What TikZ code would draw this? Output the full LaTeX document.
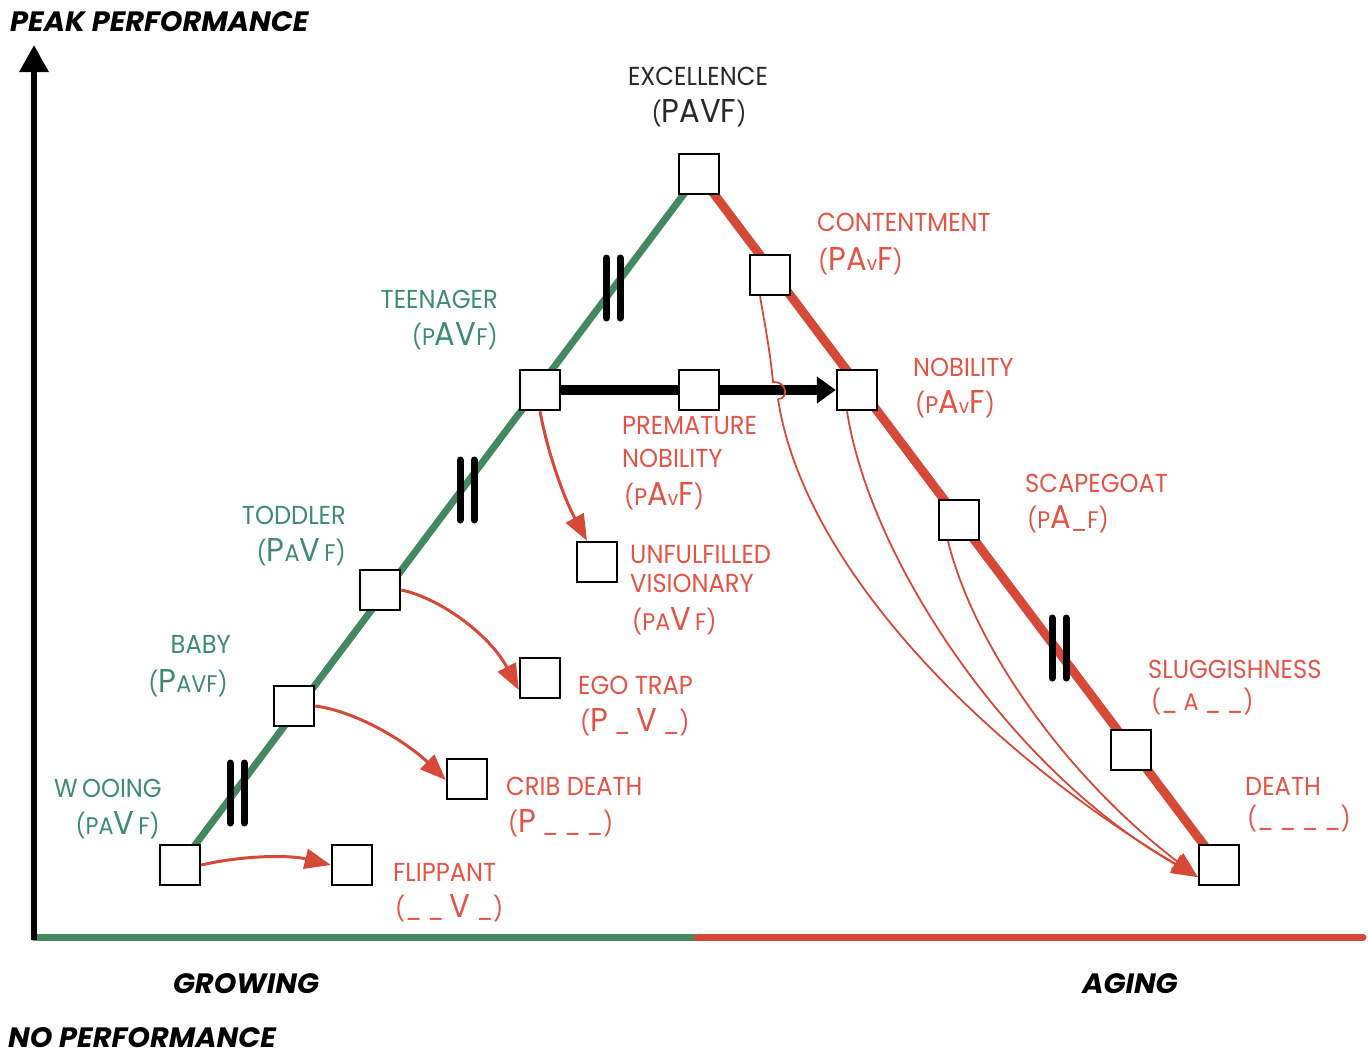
\documentclass[tikz,border=0pt]{standalone}
\usepackage{fontspec}
\setmainfont{Poppins}[FakeStretch=0.93]
\newfontfamily\ttlfont{Poppins}[FakeStretch=1.03]
\usetikzlibrary{arrows.meta,backgrounds}
\definecolor{gline}{RGB}{67,136,94}
\definecolor{rline}{RGB}{214,72,56}
\definecolor{gtext}{RGB}{62,140,112}
\definecolor{rtext}{RGB}{228,84,70}
\definecolor{ktext}{RGB}{40,40,40}
\newcommand\pB[1]{{\fontsize{33}{33}\selectfont #1}}
\newcommand\pS[1]{{\fontsize{24}{24}\selectfont #1}}
\newcommand\pT[1]{{\fontsize{20}{20}\selectfont #1}}
\newcommand\pP[1]{{\fontsize{24}{24}\selectfont #1}}
\tikzset{
  box/.style={draw=black, line width=2.5pt, fill=white, minimum size=40pt, inner sep=0pt},
  lbl/.style={inner sep=0pt, font=\fontsize{26}{26}\selectfont},
  gtxt/.style={lbl, text=gtext},
  rtxt/.style={lbl, text=rtext},
  ktxt/.style={lbl, text=ktext},
  axtxt/.style={inner sep=0pt, font=\ttlfont\bfseries\itshape\fontsize{28}{28}\selectfont},
  redarr/.style={draw=rline, line width=3pt, -{Triangle[width=20pt,length=26pt]}},
  thinred/.style={draw=rline, line width=1.8pt},
  bars/.style={line width=7pt, line cap=round},
}
\begin{document}
\begin{tikzpicture}[x=1pt,y=-1pt]
\useasboundingbox (0,0) rectangle (1368,1055);
% axis coordinates
\coordinate (O) at (34,937);
\coordinate (Ytop) at (34,45);
\coordinate (Xmid) at (697,937);
\coordinate (Xend) at (1363,937);
% boxes
\node[box] (exc) at (699,174) {};
\node[box] (cont) at (770,275) {};
\node[box] (nob) at (857,390) {};
\node[box] (scape) at (959,520) {};
\node[box] (slug) at (1131,750) {};
\node[box] (death) at (1219,865) {};
\node[box] (teen) at (540,390) {};
\node[box] (prem) at (699,390) {};
\node[box] (unf) at (597,562) {};
\node[box] (todd) at (380,590) {};
\node[box] (ego) at (540,678) {};
\node[box] (baby) at (294,706) {};
\node[box] (crib) at (467,779) {};
\node[box] (woo) at (180,865) {};
\node[box] (flip) at (352,865) {};
% main lines (behind boxes)
\begin{scope}[on background layer]
  \draw[gline, line width=7pt] (woo.center) -- (exc.center);
  \draw[rline, line width=9pt] (exc.center) -- (death.center);
  \draw[line width=10pt, -{Triangle[width=26pt,length=19pt]}] (teen.east) -- (nob.west);
\end{scope}
% axes
\draw[gline, line width=7pt, line cap=round] (O) -- (Xmid);
\draw[rline, line width=7pt, line cap=round] (Xmid) -- (Xend);
\draw[line width=6pt, -{Triangle[width=28pt,length=27pt]}] ([yshift=-3pt]O) -- (Ytop);
% double bars
\foreach \x/\y in {613/288, 467/490, 237/793, 1059/648}{
  \draw[bars] (\x-7,\y-30) -- (\x-7,\y+30);
  \draw[bars] (\x+7,\y-30) -- (\x+7,\y+30);
}
% red arrows, growing side
\draw[redarr] (woo.east) .. controls (245,855) and (290,855) .. (flip.west);
\draw[redarr] (baby.east) .. controls (360,712) and (410,745) .. ([yshift=-1pt]crib.west);
\draw[redarr] (todd.east) .. controls (440,598) and (490,635) .. ([yshift=-12pt]ego.west);
\draw[redarr] ([xshift=0pt]teen.south) .. controls (548,455) and (565,500) .. ([xshift=-10pt]unf.north);
% red arrows, aging side
\coordinate (dtip) at ([yshift=-12pt]death.west);
\coordinate (j1) at (773,382);
\coordinate (j2) at (778,399);
\draw[thinred] ([xshift=-10pt]cont.south) .. controls (764,320) and (770,350) .. (j1)
  .. controls (787,381) and (789,399) .. (j2);
\draw[thinred, -{Triangle[width=20pt,length=26pt]}] (j2) .. controls (805,575) and (1000,760) .. (dtip);
\draw[thinred, -{Triangle[width=20pt,length=26pt]}] ([xshift=-10pt]nob.south) .. controls (870,560) and (1010,770) .. (dtip);
\draw[thinred, -{Triangle[width=20pt,length=26pt]}] ([xshift=-11pt]scape.south) .. controls (975,650) and (1070,780) .. (dtip);
% labels
\node[ktxt, anchor=base] (excT) at (698,85) {EXCELLENCE};
\node[ktxt, anchor=base] (excP) at (699,122) {\pP{(}\pB{PAVF}\pP{)}};
\node[rtxt, anchor=base west] (contT) at (817,231) {CONTENTMENT};
\node[rtxt, anchor=base west] (contP) at (818,270) {\pP{(}\pB{PA}\pT{v}\pB{F}\pP{)}};
\node[rtxt, anchor=base west] (nobT) at (913,376) {NOBILITY};
\node[rtxt, anchor=base west] (nobP) at (915,413) {\pP{(}\pS{P}\pB{A}\pT{v}\pB{F}\pP{)}};
\node[rtxt, anchor=base west] (scapeT) at (1025,492) {SCAPEGOAT};
\node[rtxt, anchor=base west] (scapeP) at (1027,528) {\pP{(}\pS{P}\pB{A}\pS{\_F}\pP{)}};
\node[rtxt, anchor=base west] (slugT) at (1148,678) {SLUGGISHNESS};
\node[rtxt, anchor=base west] (slugP) at (1151,710) {\pP{(}\pS{\_ A \_ \_}\pP{)}};
\node[rtxt, anchor=base west] (deathT) at (1245,795) {DEATH};
\node[rtxt, anchor=base west] (deathP) at (1247,827) {\pP{(}\pS{\_ \_ \_ \_}\pP{)}};
\node[rtxt, anchor=base west] (premT1) at (622,434) {PREMATURE};
\node[rtxt, anchor=base west] (premT2) at (622,467) {NOBILITY};
\node[rtxt, anchor=base west] (premP) at (624,505) {\pP{(}\pS{P}\pB{A}\pT{v}\pB{F}\pP{)}};
\node[rtxt, anchor=base west] (unfT1) at (630,563) {UNFULFILLED};
\node[rtxt, anchor=base west] (unfT2) at (630,592) {VISIONARY};
\node[rtxt, anchor=base west] (unfP) at (632,630) {\pP{(}\pS{PA}\pB{V}\pS{\,F}\pP{)}};
\node[gtxt, anchor=base east] (teenT) at (498,308) {TEENAGER};
\node[gtxt, anchor=base east] (teenP) at (498,345) {\pP{(}\pS{P}\pB{AV}\pS{F}\pP{)}};
\node[gtxt, anchor=base east] (toddT) at (346,524) {TODDLER};
\node[gtxt, anchor=base east] (toddP) at (346,561) {\pP{(}\pB{P}\pS{A}\pB{V}\pS{\,F}\pP{)}};
\node[gtxt, anchor=base east] (babyT) at (231,653) {BABY};
\node[gtxt, anchor=base east] (babyP) at (228,692) {\pP{(}\pB{P}\pS{AVF}\pP{)}};
\node[gtxt, anchor=base east] (wooT) at (162,797) {W\,OOING};
\node[gtxt, anchor=base east] (wooP) at (160,834) {\pP{(}\pS{PA}\pB{V}\pS{\,F}\pP{)}};
\node[rtxt, anchor=base west] (flipT) at (393,881) {FLIPPANT};
\node[rtxt, anchor=base west] (flipP) at (395,917) {\pP{(}\pS{\_ \_ }\pB{V}\pS{ \_}\pP{)}};
\node[rtxt, anchor=base west] (cribT) at (506,795) {CRIB DEATH};
\node[rtxt, anchor=base west] (cribP) at (508,832) {\pP{(}\pB{P}\pS{ \_ \_ \_}\pP{)}};
\node[rtxt, anchor=base west] (egoT) at (578,694) {EGO TRAP};
\node[rtxt, anchor=base west] (egoP) at (580,731) {\pP{(}\pB{P}\pS{ \_ }\pB{V}\pS{ \_}\pP{)}};
% axis labels
\node[axtxt, anchor=base west] (peak) at (10,31) {PEAK PERFORMANCE};
\node[axtxt, anchor=base] (grow) at (246,993) {GROWING};
\node[axtxt, anchor=base] (aging) at (1130,993) {AGING};
\node[axtxt, anchor=base west] (noperf) at (8,1047) {NO PERFORMANCE};
\end{tikzpicture}
\end{document}
